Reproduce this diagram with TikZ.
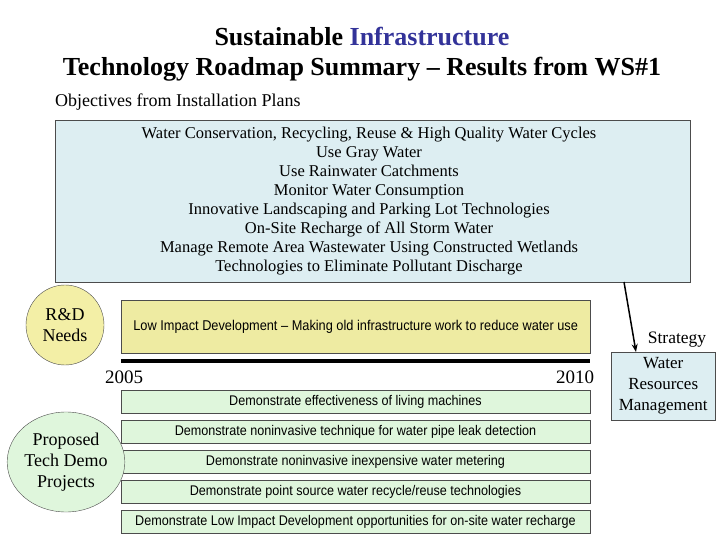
\documentclass[tikz,border=0pt]{standalone}
\usepackage{fontspec}
\setmainfont{Liberation Serif}
\newfontfamily\narrowsans{Liberation Sans}
\definecolor{titleblue}{HTML}{333399}
\definecolor{objfill}{HTML}{DDEEF2}
\definecolor{rdfill}{HTML}{F3EFA6}
\definecolor{yelbox}{HTML}{EEEBA2}
\definecolor{grnfill}{HTML}{DFF6DC}
\tikzset{
  px/.style={x=1pt,y=-1pt},
  demo/.style={draw=black!70,fill=grnfill,minimum width=469pt,minimum height=23pt,inner sep=0pt,font=\narrowsans\fontsize{14}{16}\selectfont},
  ell/.style={draw=black!70,ellipse,inner sep=0pt,align=center,font=\fontsize{18}{21}\selectfont},
}
\usetikzlibrary{shapes.geometric,arrows.meta}
\begin{document}
\begin{tikzpicture}[px]
\useasboundingbox (0,0) rectangle (720,540);
\node (t1) at (362,37) {\bfseries\fontsize{26}{28}\selectfont Sustainable \textcolor{titleblue}{Infrastructure}};
\node (t2) at (362,69) {\bfseries\fontsize{26}{28}\selectfont Technology Roadmap Summary – Results from WS\#1};
\node[anchor=west,inner sep=0pt] (obj) at (55,102) {\fontsize{18}{20}\selectfont Objectives from Installation Plans};
\node[draw=black!70,fill=objfill,minimum width=635pt,minimum height=162pt,anchor=north west] (box) at (55,120) {};
\node[align=center,font=\fontsize{16.5}{19}\selectfont,anchor=north] (objtxt) at (369,124) {Water Conservation, Recycling, Reuse \& High Quality Water Cycles\\Use Gray Water\\Use Rainwater Catchments\\Monitor Water Consumption\\Innovative Landscaping and Parking Lot Technologies\\On-Site Recharge of All Storm Water\\Manage Remote Area Wastewater Using Constructed Wetlands\\Technologies to Eliminate Pollutant Discharge};
\node[ell,fill=rdfill,minimum width=78pt,minimum height=80pt] (rd) at (65,325) {R\&D\\Needs};
\node[draw=black!70,fill=yelbox,minimum width=469pt,minimum height=53pt,anchor=north west,font=\narrowsans\fontsize{14.2}{16}\selectfont] (lid) at (121,300) {\scalebox{0.9}[1]{Low Impact Development – Making old infrastructure work to reduce water use}};
\coordinate (ba) at (121,361); \coordinate (bb) at (590,361);
\draw[line width=4pt] (ba) -- (bb);
\node[font=\fontsize{19}{21}\selectfont] (y1) at (124,377) {2005};
\node[font=\fontsize{19}{21}\selectfont] (y2) at (575,377) {2010};
\node[demo] (d1) at (355.5,401.5) {\scalebox{0.9}[1]{Demonstrate effectiveness of living machines}};
\node[demo] (d2) at (355.5,431.5) {\scalebox{0.9}[1]{Demonstrate noninvasive technique for water pipe leak detection}};
\node[demo] (d3) at (355.5,461.5) {\scalebox{0.9}[1]{Demonstrate noninvasive inexpensive water metering}};
\node[demo] (d4) at (355.5,491.5) {\scalebox{0.9}[1]{Demonstrate point source water recycle/reuse technologies}};
\node[demo] (d5) at (355.5,521.5) {\scalebox{0.9}[1]{Demonstrate Low Impact Development opportunities for on-site water recharge}};
\node[ell,fill=grnfill,minimum width=104pt,minimum height=100pt] (pt) at (66,462) {Proposed\\Tech Demo\\Projects};
\node[draw=black!70,fill=objfill,minimum width=104pt,minimum height=68pt,align=center,font=\fontsize{17}{21}\selectfont,anchor=north west] (wrm) at (611,352) {Water\\Resources\\Management};
\coordinate (as) at (624,282);
\draw[-{Stealth[length=8pt]},line width=1.5pt] (as) -- (wrm.north -| 636,0);
\node[font=\fontsize{17.5}{20}\selectfont] (strat) at (677,340) {Strategy};
\end{tikzpicture}
\end{document}
